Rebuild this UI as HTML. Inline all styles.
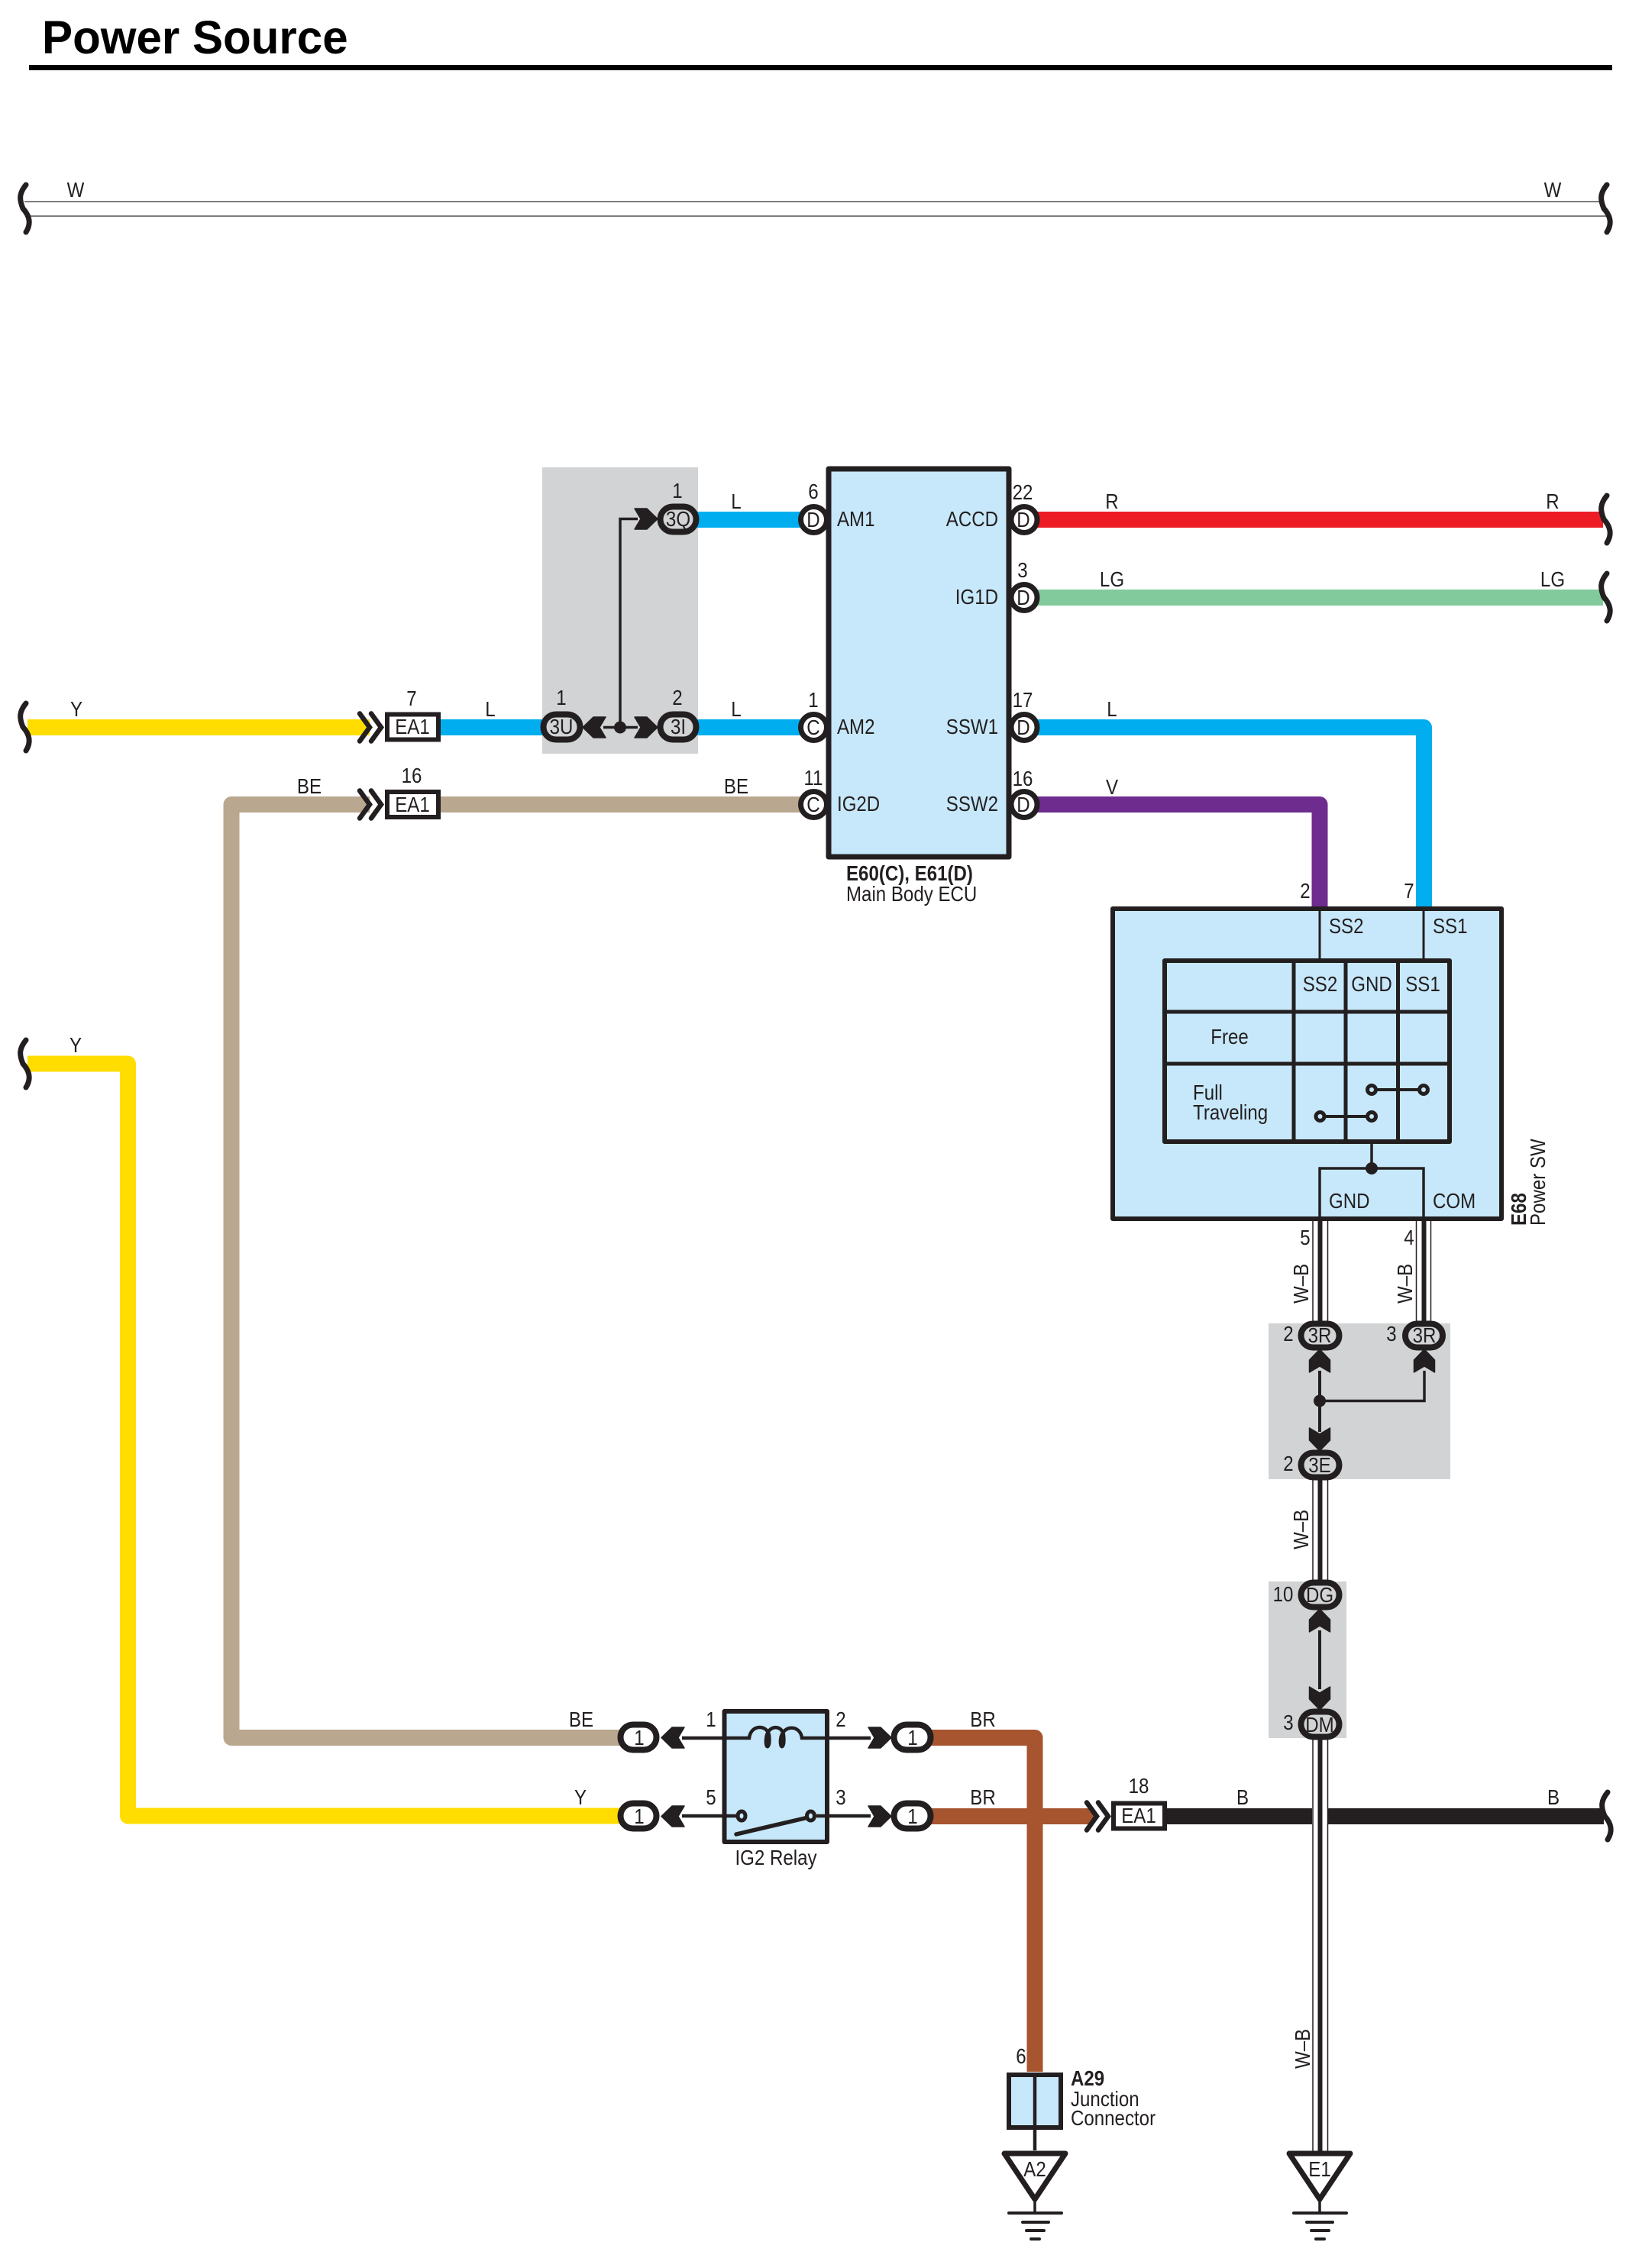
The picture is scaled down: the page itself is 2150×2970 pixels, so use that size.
<!DOCTYPE html>
<html>
<head>
<meta charset="utf-8">
<style>
html,body{margin:0;padding:0;background:#fff}
svg{display:block}
text{font-family:"Liberation Sans",sans-serif;font-size:28px;fill:#231f20}
.m{text-anchor:middle}
.e{text-anchor:end}
.b{font-weight:bold}
</style>
</head>
<body>
<svg width="2150" height="2970" viewBox="0 0 2150 2970" xmlns="http://www.w3.org/2000/svg">
<defs>
<path id="sq" d="M2 -31C-7 -20 -7 -12 -2 0C7 10 9 20 2 31" fill="none" stroke="#231f20" stroke-width="7" stroke-linecap="round"/>
<polygon id="cr" points="-30,-13.5 -14,-13.5 0,0 -14,13.5 -30,13.5 -22,0" fill="#231f20" stroke="#231f20" stroke-width="1.5" stroke-linejoin="round"/>
<path id="dc" d="M-31 -18L-18 0L-31 18M-16 -18L-3 0L-16 18" fill="none" stroke="#231f20" stroke-width="6.5" stroke-linecap="round"/>
</defs>

<!-- title -->
<text class="b" transform="translate(55 70) scale(.985 1)" style="font-size:61px;fill:#000">Power Source</text>
<rect x="38" y="85" width="2073" height="7" fill="#000"/>

<!-- W lines -->
<line x1="32" y1="264" x2="2097" y2="264" stroke="#7d7d7d" stroke-width="2"/>
<line x1="38" y1="283" x2="2105" y2="283" stroke="#7d7d7d" stroke-width="2"/>
<use href="#sq" x="32" y="273"/>
<use href="#sq" x="2102" y="273"/>
<text class="m" transform="translate(99 258) scale(.86 1)">W</text>
<text class="m" transform="translate(2033 258) scale(.86 1)">W</text>

<!-- gray boxes -->
<rect x="710" y="612" width="204" height="375" fill="#d1d3d4"/>
<rect x="1661" y="1733" width="238" height="204" fill="#d1d3d4"/>
<rect x="1661" y="2071" width="102" height="205" fill="#d1d3d4"/>

<!-- wires -->
<g fill="none" stroke-width="21" stroke-linejoin="round">
<path d="M36 952.5H484" stroke="#ffdd00"/>
<path d="M577 952.5H712" stroke="#00aeef"/>
<path d="M912 680.5H1050" stroke="#00aeef"/>
<path d="M912 952.5H1050" stroke="#00aeef"/>
<path d="M1345 952.5H1864.5V1190" stroke="#00aeef"/>
<path d="M1345 1053.5H1728V1190" stroke="#6e2c8f"/>
<path d="M1345 680.5H2099" stroke="#ed1c24"/>
<path d="M1345 782.5H2099" stroke="#82ca9c"/>
<path d="M484 1053.5H303V2275.5H815" stroke="#b9a78f"/>
<path d="M577 1053.5H1050" stroke="#b9a78f"/>
<path d="M36 1393H167.5V2378H815" stroke="#ffdd00"/>
<path d="M1215 2275.5H1355V2713" stroke="#a7552f"/>
<path d="M1215 2378.5H1432" stroke="#a7552f"/>
<path d="M1525 2378.5H2100" stroke="#231f20"/>
</g>
<use href="#sq" x="32" y="952"/>
<use href="#sq" x="32" y="1393"/>
<use href="#sq" x="2102" y="680"/>
<use href="#sq" x="2102" y="782"/>
<use href="#sq" x="2103" y="2378"/>

<!-- W-B wires -->
<rect x="1718" y="2360" width="21" height="40" fill="#fff"/>
<g fill="none" stroke="#231f20">
<g stroke-width="1.5">
<path d="M1719 1599V1735M1738.500 1599V1735M1854.500 1599V1735M1873.500 1599V1735"/>
<path d="M1719 1936V2072M1738.500 1936V2072"/>
<path d="M1719 2276V2818M1738.500 2276V2818"/>
</g>
<g stroke-width="6">
<path d="M1728.500 1599V1735M1864.500 1599V1735M1728.500 1936V2072M1728.500 2276V2818"/>
</g>
</g>

<!-- gray-box internal connections -->
<g fill="none" stroke="#231f20">
<path d="M790 952.500H835M812 952.500V679.500H835" stroke-width="3.500"/>
<path d="M1728 1795V1875" stroke-width="4"/>
<path d="M1728 1834.500H1865V1795" stroke-width="3.500"/>
<path d="M1728 2135V2212" stroke-width="4"/>
</g>
<circle cx="812" cy="952.500" r="8" fill="#231f20"/>
<circle cx="1728" cy="1834.500" r="8" fill="#231f20"/>
<use href="#cr" transform="translate(861 679.500)"/>
<use href="#cr" transform="translate(861 952.500)"/>
<use href="#cr" transform="translate(763 952.500) rotate(180)"/>
<use href="#cr" transform="translate(1728 1767) rotate(-90)"/>
<use href="#cr" transform="translate(1865 1767) rotate(-90)"/>
<use href="#cr" transform="translate(1728 1900) rotate(90)"/>
<use href="#cr" transform="translate(1728 2107) rotate(-90)"/>
<use href="#cr" transform="translate(1728 2239) rotate(90)"/>

<!-- ovals gray -->
<g fill="#d1d3d4" stroke="#231f20" stroke-width="8">
<rect x="864.500" y="663.500" width="47" height="33" rx="16.500"/>
<rect x="864.500" y="935.500" width="47" height="33" rx="16.500"/>
<rect x="711.500" y="935.500" width="48" height="33" rx="16.500"/>
<rect x="1703.500" y="1733.500" width="50" height="31" rx="15.500"/>
<rect x="1840" y="1733.500" width="49" height="31" rx="15.500"/>
<rect x="1703.500" y="1902.500" width="50" height="32" rx="16"/>
<rect x="1703.500" y="2072.500" width="50" height="32" rx="16"/>
<rect x="1703.500" y="2241.500" width="50" height="33" rx="16.500"/>
</g>
<g class="m">
<text class="m" transform="translate(888 689) scale(.86 1)">3Q</text>
<text class="m" transform="translate(888 961) scale(.86 1)">3I</text>
<text class="m" transform="translate(735 961) scale(.86 1)">3U</text>
<text class="m" transform="translate(1728 1758) scale(.86 1)">3R</text>
<text class="m" transform="translate(1865 1758) scale(.86 1)">3R</text>
<text class="m" transform="translate(1728 1928) scale(.86 1)">3E</text>
<text class="m" transform="translate(1728 2098) scale(.86 1)">DG</text>
<text class="m" transform="translate(1728 2268) scale(.86 1)">DM</text>
</g>

<!-- ECU -->
<rect x="1085" y="614" width="236" height="508" fill="#c7e8fa" stroke="#231f20" stroke-width="7" stroke-linejoin="round"/>
<g fill="#fff" stroke="#231f20" stroke-width="7">
<circle cx="1065.500" cy="680.500" r="17"/>
<circle cx="1065.500" cy="952.500" r="17"/>
<circle cx="1065.500" cy="1053.500" r="17"/>
<circle cx="1341" cy="680.500" r="17"/>
<circle cx="1341" cy="782.500" r="17"/>
<circle cx="1341" cy="952.500" r="17"/>
<circle cx="1341" cy="1053.500" r="17"/>
</g>
<text class="m" transform="translate(1065 690) scale(.86 1)">D</text>
<text class="m" transform="translate(1065 962) scale(.86 1)">C</text>
<text class="m" transform="translate(1065 1063) scale(.86 1)">C</text>
<text class="m" transform="translate(1340 690) scale(.86 1)">D</text>
<text class="m" transform="translate(1340 792) scale(.86 1)">D</text>
<text class="m" transform="translate(1340 962) scale(.86 1)">D</text>
<text class="m" transform="translate(1340 1063) scale(.86 1)">D</text>
<text transform="translate(1096 689) scale(.86 1)">AM1</text>
<text transform="translate(1096 961) scale(.86 1)">AM2</text>
<text transform="translate(1096 1062) scale(.86 1)">IG2D</text>
<text class="e" transform="translate(1307 689) scale(.86 1)">ACCD</text>
<text class="e" transform="translate(1307 791) scale(.86 1)">IG1D</text>
<text class="e" transform="translate(1307 961) scale(.86 1)">SSW1</text>
<text class="e" transform="translate(1307 1062) scale(.86 1)">SSW2</text>
<text class="b" transform="translate(1108 1153) scale(.86 1)">E60(C), E61(D)</text>
<text transform="translate(1108 1180) scale(.86 1)">Main Body ECU</text>

<!-- EA1 connectors -->
<use href="#dc" transform="translate(502 952.500)"/>
<use href="#dc" transform="translate(502 1053.500)"/>
<use href="#dc" transform="translate(1454 2378.500)"/>
<g fill="#fff" stroke="#231f20" stroke-width="6">
<rect x="507" y="935.500" width="67" height="33"/>
<rect x="507" y="1037" width="67" height="33"/>
<rect x="1458" y="2361.500" width="67" height="33"/>
</g>
<text class="m" transform="translate(540 961) scale(.86 1)">EA1</text>
<text class="m" transform="translate(540 1063) scale(.86 1)">EA1</text>
<text class="m" transform="translate(1491 2387) scale(.86 1)">EA1</text>

<!-- wire and pin labels -->
<g>
<text class="m" transform="translate(100 938) scale(.86 1)">Y</text>
<text class="m" transform="translate(99 1378) scale(.86 1)">Y</text>
<text class="m" transform="translate(539 924) scale(.86 1)">7</text>
<text class="m" transform="translate(539 1025) scale(.86 1)">16</text>
<text class="m" transform="translate(642 938) scale(.86 1)">L</text>
<text class="m" transform="translate(735 923) scale(.86 1)">1</text>
<text class="m" transform="translate(887 652) scale(.86 1)">1</text>
<text class="m" transform="translate(887 923) scale(.86 1)">2</text>
<text class="m" transform="translate(964 666) scale(.86 1)">L</text>
<text class="m" transform="translate(964 938) scale(.86 1)">L</text>
<text class="m" transform="translate(1065 653) scale(.86 1)">6</text>
<text class="m" transform="translate(1065 926) scale(.86 1)">1</text>
<text class="m" transform="translate(1065 1028) scale(.86 1)">11</text>
<text class="m" transform="translate(405 1039) scale(.86 1)">BE</text>
<text class="m" transform="translate(964 1039) scale(.86 1)">BE</text>
<text class="m" transform="translate(1339 654) scale(.86 1)">22</text>
<text class="m" transform="translate(1339 756) scale(.86 1)">3</text>
<text class="m" transform="translate(1339 926) scale(.86 1)">17</text>
<text class="m" transform="translate(1339 1029) scale(.86 1)">16</text>
<text class="m" transform="translate(1456 666) scale(.86 1)">R</text>
<text class="m" transform="translate(2033 666) scale(.86 1)">R</text>
<text class="m" transform="translate(1456 768) scale(.86 1)">LG</text>
<text class="m" transform="translate(2033 768) scale(.86 1)">LG</text>
<text class="m" transform="translate(1456 938) scale(.86 1)">L</text>
<text class="m" transform="translate(1456 1040) scale(.86 1)">V</text>
<text class="m" transform="translate(1709 1176) scale(.86 1)">2</text>
<text class="m" transform="translate(1845 1176) scale(.86 1)">7</text>
<text class="m" transform="translate(1709 1630) scale(.86 1)">5</text>
<text class="m" transform="translate(1845 1630) scale(.86 1)">4</text>
<text class="m" transform="translate(1687 1756) scale(.86 1)">2</text>
<text class="m" transform="translate(1822 1756) scale(.86 1)">3</text>
<text class="m" transform="translate(1687 1926) scale(.86 1)">2</text>
<text class="m" transform="translate(1680 2097) scale(.86 1)">10</text>
<text class="m" transform="translate(1687 2265) scale(.86 1)">3</text>
<text transform="translate(1713 1707) rotate(-90) scale(.86 1)">W–B</text>
<text transform="translate(1849 1707) rotate(-90) scale(.86 1)">W–B</text>
<text transform="translate(1713 2029) rotate(-90) scale(.86 1)">W–B</text>
<text transform="translate(1715 2709) rotate(-90) scale(.86 1)">W–B</text>
<text class="m" transform="translate(761 2261) scale(.86 1)">BE</text>
<text class="m" transform="translate(760 2363) scale(.86 1)">Y</text>
<text class="m" transform="translate(931 2261) scale(.86 1)">1</text>
<text class="m" transform="translate(931 2363) scale(.86 1)">5</text>
<text class="m" transform="translate(1101 2261) scale(.86 1)">2</text>
<text class="m" transform="translate(1101 2363) scale(.86 1)">3</text>
<text class="m" transform="translate(1287 2261) scale(.86 1)">BR</text>
<text class="m" transform="translate(1287 2363) scale(.86 1)">BR</text>
<text class="m" transform="translate(1491 2348) scale(.86 1)">18</text>
<text class="m" transform="translate(1627 2363) scale(.86 1)">B</text>
<text class="m" transform="translate(2034 2363) scale(.86 1)">B</text>
<text class="m" transform="translate(1337 2702) scale(.86 1)">6</text>
</g>

<!-- Power SW -->
<rect x="1457" y="1190" width="509" height="406" fill="#c7e8fa" stroke="#231f20" stroke-width="6" stroke-linejoin="round"/>
<g fill="none" stroke="#231f20">
<path d="M1728 1190V1256M1864 1190V1256" stroke-width="3"/>
<path d="M1796 1498V1530" stroke-width="3.500"/>
<path d="M1728 1596V1530H1864V1596" stroke-width="3.500"/>
</g>
<rect x="1525" y="1258" width="373" height="237" fill="#c7e8fa" stroke="#231f20" stroke-width="6" stroke-linejoin="round"/>
<path d="M1694 1258V1495M1762 1258V1495M1830.500 1258V1495M1525 1325H1898M1525 1393H1898" fill="none" stroke="#231f20" stroke-width="5"/>
<circle cx="1796" cy="1530" r="8" fill="#231f20"/>
<path d="M1796 1427H1864M1728.500 1462H1796" stroke="#231f20" stroke-width="4" fill="none"/>
<g fill="#c7e8fa" stroke="#231f20" stroke-width="5">
<circle cx="1796" cy="1427" r="5.500"/>
<circle cx="1864" cy="1427" r="5.500"/>
<circle cx="1728.500" cy="1462" r="5.500"/>
<circle cx="1796" cy="1462" r="5.500"/>
</g>
<text transform="translate(1740 1222) scale(.86 1)">SS2</text>
<text transform="translate(1876 1222) scale(.86 1)">SS1</text>
<text class="m" transform="translate(1728.500 1298) scale(.86 1)">SS2</text>
<text class="m" transform="translate(1796 1298) scale(.86 1)">GND</text>
<text class="m" transform="translate(1863 1298) scale(.86 1)">SS1</text>
<text class="m" transform="translate(1610 1367) scale(.86 1)">Free</text>
<text transform="translate(1562 1440) scale(.86 1)">Full</text>
<text transform="translate(1562 1466) scale(.86 1)">Traveling</text>
<text transform="translate(1740 1582) scale(.86 1)">GND</text>
<text transform="translate(1876 1582) scale(.86 1)">COM</text>
<text class="b" transform="translate(1998 1605) rotate(-90) scale(.86 1)">E68</text>
<text transform="translate(2023 1605) rotate(-90) scale(.86 1)">Power SW</text>

<!-- Relay -->
<rect x="948.500" y="2241" width="134.500" height="171" fill="#c7e8fa" stroke="#231f20" stroke-width="6" stroke-linejoin="round"/>
<g fill="none" stroke="#231f20">
<path d="M893 2276H981C983 2258 1004 2258 1007 2272C1009 2290 1002 2292 1003 2278C1004 2258 1024 2258 1026 2272C1028 2290 1021 2292 1022 2278C1024 2258 1048 2258 1050 2276H1140" stroke-width="4.500"/>
<path d="M893 2378H964M1069 2378H1140" stroke-width="4.500"/>
<path d="M964 2402L1058 2380" stroke-width="5.500" stroke-linecap="round"/>
</g>
<g fill="#c7e8fa" stroke="#231f20" stroke-width="5">
<ellipse cx="971" cy="2378" rx="5" ry="6"/>
<ellipse cx="1061.500" cy="2378" rx="5" ry="6"/>
</g>
<use href="#cr" transform="translate(866 2275.500) rotate(180)"/>
<use href="#cr" transform="translate(866 2378.500) rotate(180)"/>
<use href="#cr" transform="translate(1167 2275.500)"/>
<use href="#cr" transform="translate(1167 2378.500)"/>
<g fill="#fff" stroke="#231f20" stroke-width="8">
<rect x="812.500" y="2258.500" width="47" height="33" rx="16.500"/>
<rect x="812.500" y="2361.500" width="47" height="33" rx="16.500"/>
<rect x="1170.500" y="2258.500" width="48" height="33" rx="16.500"/>
<rect x="1170.500" y="2361.500" width="48" height="33" rx="16.500"/>
</g>
<text class="m" transform="translate(837 2285) scale(.86 1)">1</text>
<text class="m" transform="translate(837 2388) scale(.86 1)">1</text>
<text class="m" transform="translate(1195 2285) scale(.86 1)">1</text>
<text class="m" transform="translate(1195 2388) scale(.86 1)">1</text>
<text class="m" transform="translate(1016 2442) scale(.86 1)">IG2 Relay</text>

<!-- Junction connector & grounds -->
<rect x="1321" y="2717" width="68" height="69" fill="#c7e8fa" stroke="#231f20" stroke-width="6"/>
<path d="M1355 2717V2816" stroke="#231f20" stroke-width="4.500" fill="none"/>
<text class="b" transform="translate(1402 2731) scale(.86 1)">A29</text>
<text transform="translate(1402 2758) scale(.86 1)">Junction</text>
<text transform="translate(1402 2783) scale(.86 1)">Connector</text>

<path d="M1315 2820H1395L1355 2880Z" fill="#fff" stroke="#231f20" stroke-width="7" stroke-linejoin="round"/>
<path d="M1688 2820H1768L1728 2880Z" fill="#fff" stroke="#231f20" stroke-width="7" stroke-linejoin="round"/>
<text class="m" transform="translate(1355 2850) scale(.86 1)">A2</text>
<text class="m" transform="translate(1728 2850) scale(.86 1)">E1</text>
<g fill="none" stroke="#231f20" stroke-linecap="round">
<path d="M1355 2880V2898M1728 2880V2898" stroke-width="3.500"/>
<path d="M1321 2898H1390M1339 2910H1373M1344 2921H1367M1350 2932H1361" stroke-width="4"/>
<path d="M1694 2898H1763M1711 2910H1745M1717 2921H1740M1723 2932H1734" stroke-width="4"/>
</g>
</svg>
</body>
</html>
